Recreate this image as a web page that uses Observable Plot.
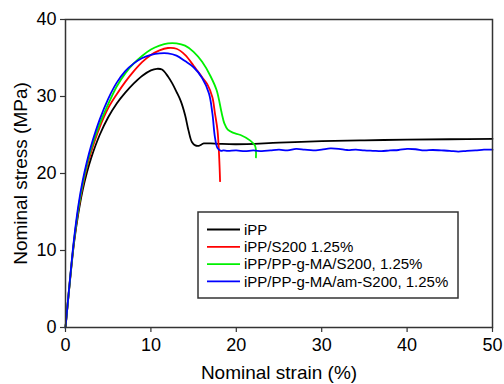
<!DOCTYPE html>
<html>
<head>
<meta charset="utf-8">
<script src="https://cdn.jsdelivr.net/npm/d3@7"></script>
<script src="https://cdn.jsdelivr.net/npm/@observablehq/plot@0.6"></script>
<style>
  html, body { margin: 0; padding: 0; background: #fff; }
  #chart { width: 504px; height: 384px; }
</style>
</head>
<body>
<div id="chart"></div>
<script>
// ---- data ----
const seriesNames = ["iPP", "iPP/S200 1.25%", "iPP/PP-g-MA/S200, 1.25%", "iPP/PP-g-MA/am-S200, 1.25%"];
const seriesColors = ["#000000", "#ff0000", "#00f000", "#0000ff"];

const xTicks = [0, 10, 20, 30, 40, 50];
const yTicks = [0, 10, 20, 30, 40];

const ippStrain  = [0,0.5,1,1.5,2,2.5,3,4,5,6,7,8,9,10,10.7,11.3,12,12.5,13,13.5,14,14.4,14.8,15.2,15.6,16.2,17,18,20,25,30,35,40,45,50];
const ippStress  = [0,5.8,11.0,14.8,17.8,20.1,22.0,25.0,27.3,29.1,30.5,31.7,32.7,33.4,33.6,33.5,32.6,31.7,30.6,29.4,27.6,25.6,24.1,23.65,23.6,23.9,23.9,23.85,23.8,24.0,24.2,24.3,24.4,24.45,24.5];

const s200Strain = [0,0.5,1,1.5,2,2.5,3,4,5,6,7,8,9,10,11,12,13,14,15,15.4,16,16.6,17.2,17.5,17.8,18.0,18.1];
const s200Stress = [0,5.9,11.2,15.2,18.3,20.8,22.8,26.0,28.5,30.3,31.9,33.3,34.5,35.4,36.0,36.3,36.2,35.4,34.0,33.4,32.5,31.6,29.9,27.8,25.6,22.0,19.0];

const maStrain   = [0,0.5,1,1.5,2,2.5,3,4,5,6,7,8,9,10,11,12,13,14,15,16,17,17.7,18.3,18.6,19.0,19.6,20.5,21.6,22.2,22.3];
const maStress   = [0,5.9,11.3,15.4,18.6,21.1,23.2,26.4,29.0,31.3,33.0,34.3,35.3,36.1,36.6,36.9,36.9,36.6,35.8,34.5,32.6,30.8,27.8,26.5,25.7,25.3,25.0,24.3,23.6,22.1];

const amStrain   = [0,0.5,1,1.5,2,2.5,3,4,5,6,7,8,9,10,11,12,13,14,15,16,16.8,17.2,17.5,17.8,18.2,18.5,19,20,21,22,23,24,25,26,27,28,29,30,31,32,33,34,35,36,37,38,39,40,41,42,43,44,45,46,47,48,49,50];
const amStress   = [0,6.0,11.5,15.8,19.0,21.5,23.6,27.0,29.7,31.8,33.3,34.3,35.0,35.4,35.6,35.6,35.3,34.6,33.8,32.4,30.4,27.8,24.7,23.3,22.95,23.0,22.95,23.0,22.9,23.0,22.9,23.0,23.1,23.0,23.2,23.1,23.0,23.1,23.25,23.2,23.05,23.1,23.0,22.95,22.9,23.0,23.05,23.2,23.15,23.0,23.05,23.0,22.95,22.85,22.95,23.0,23.1,23.1];

// ---- build table for the library ----
const allStrain = [ippStrain, s200Strain, maStrain, amStrain];
const allStress = [ippStress, s200Stress, maStress, amStress];
const rows = [];
seriesNames.forEach((name, i) => {
  allStrain[i].forEach((x, j) => rows.push({series: name, strain: x, stress: allStress[i][j]}));
});

const font = "Arial, 'Liberation Sans', sans-serif";

const plot = Plot.plot({
  width: 504,
  height: 384,
  marginLeft: 65,
  marginRight: 12,
  marginTop: 19,
  marginBottom: 57,
  style: {fontFamily: font, background: "#fff", color: "#000"},
  x: {domain: [0, 50]},
  y: {domain: [0, 40]},
  color: {domain: seriesNames, range: seriesColors},
  marks: [
    Plot.axisX({ticks: xTicks, tickSize: 5, tickPadding: 6, fontSize: 18, label: null, stroke: "#333", strokeWidth: 1.2}),
    Plot.axisY({ticks: yTicks, tickSize: 5, tickPadding: 4, fontSize: 18, label: null, stroke: "#333", strokeWidth: 1.2}),
    Plot.line(rows, {x: "strain", y: "stress", z: "series", stroke: "series", strokeWidth: 1.8, curve: "catmull-rom"}),
    Plot.frame({stroke: "#333", strokeWidth: 1.5}),
    Plot.text(["Nominal strain (%)"], {frameAnchor: "bottom", dy: 45, fontSize: 19, fill: "#000", lineAnchor: "middle", textAnchor: "middle"}),
    Plot.text(["Nominal stress (MPa)"], {frameAnchor: "left", dx: -45, rotate: -90, fontSize: 19, fill: "#000", lineAnchor: "middle", textAnchor: "middle"})
  ]
});

document.getElementById("chart").appendChild(plot);

// ---- legend inside the plot area ----
const svg = d3.select(plot);
const lg = svg.append("g").attr("font-family", font).attr("font-size", 15).attr("text-anchor", "start");
lg.append("rect").attr("x", 198).attr("y", 212).attr("width", 260).attr("height", 86)
  .attr("fill", "#fff").attr("stroke", "#333").attr("stroke-width", 1.5);
seriesNames.forEach((name, i) => {
  const yy = 229.5 + i * 17.3;
  lg.append("line").attr("x1", 207).attr("x2", 240).attr("y1", yy).attr("y2", yy)
    .attr("stroke", seriesColors[i]).attr("stroke-width", 1.8);
  lg.append("text").attr("x", 244).attr("y", yy).attr("dy", "0.35em").attr("text-anchor", "start")
    .attr("fill", "#000").text(name);
});
</script>
</body>
</html>
